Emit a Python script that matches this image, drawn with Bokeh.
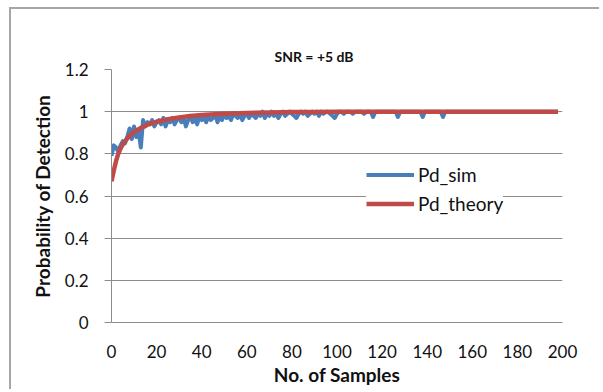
from bokeh.plotting import figure
from bokeh.models import Range1d, FixedTicker, Legend, LegendItem, Title
from bokeh.embed import file_html
from bokeh.resources import INLINE

# ---- data ----
sim_y = [
    0.79, 0.84, 0.83, 0.81, 0.84, 0.86, 0.85, 0.88, 0.92, 0.87,
    0.93, 0.88, 0.91, 0.83, 0.96, 0.93, 0.95, 0.94, 0.96, 0.93,
    0.95, 0.96, 0.94, 0.97, 0.93, 0.96, 0.95, 0.97, 0.94, 0.96,
    0.97, 0.95, 0.97, 0.93, 0.96, 0.98, 0.95, 0.97, 0.94, 0.98,
    0.96, 0.97, 0.95, 0.98, 0.96, 0.97, 0.99, 0.95, 0.98, 0.96,
    0.99, 0.97, 0.98, 0.96, 0.99, 0.98, 0.97, 0.99, 0.96, 0.98,
    0.99, 0.97, 0.99, 0.98, 0.97, 0.99, 0.98, 1.0, 0.97, 0.99,
    0.98, 1.0, 0.98, 0.99, 0.97, 0.99, 1.0, 0.98, 0.99, 1.0,
    0.99, 0.98, 0.97, 0.99, 1.0, 0.99, 1.0, 0.98, 0.99, 1.0,
    0.99, 1.0, 0.98, 1.0, 0.99, 1.0, 1.0, 0.99, 0.98, 0.97,
    0.99, 1.0, 1.0, 0.99, 1.0, 1.0, 1.0, 0.99, 1.0, 1.0,
    1.0, 1.0, 0.99, 1.0, 1.0, 1.0, 0.975, 1.0, 1.0, 1.0,
    1.0, 1.0, 1.0, 1.0, 1.0, 1.0, 1.0, 0.975, 1.0, 1.0,
    1.0, 1.0, 1.0, 1.0, 1.0, 1.0, 1.0, 1.0, 0.975, 1.0,
    1.0, 1.0, 1.0, 1.0, 1.0, 1.0, 1.0, 0.975, 1.0, 1.0,
    1.0, 1.0, 1.0, 1.0, 1.0, 1.0, 1.0, 1.0, 1.0, 1.0,
    1.0, 1.0, 1.0, 1.0, 1.0, 1.0, 1.0, 1.0, 1.0, 1.0,
    1.0, 1.0, 1.0, 1.0, 1.0, 1.0, 1.0, 1.0, 1.0, 1.0,
    1.0, 1.0, 1.0, 1.0, 1.0, 1.0, 1.0, 1.0, 1.0, 1.0,
    1.0, 1.0, 1.0, 1.0, 1.0, 1.0, 1.0, 1.0, 1.0,
]
sim_x = list(range(len(sim_y)))

theory_x = [0, 1, 2, 3, 4, 5, 6, 7, 8, 9, 10, 12, 14, 16, 18, 20, 25, 30,
            35, 40, 50, 60, 70, 80, 90, 100, 150, 198]
theory_y = [0.67, 0.72, 0.765, 0.80, 0.825, 0.845, 0.86, 0.873, 0.885, 0.895,
            0.903, 0.917, 0.928, 0.938, 0.946, 0.952, 0.964, 0.972, 0.979,
            0.984, 0.99, 0.994, 0.996, 0.998, 0.999, 1.0, 1.0, 1.0]

x_ticks = [0, 20, 40, 60, 80, 100, 120, 140, 160, 180, 200]
y_ticks = [0, 0.2, 0.4, 0.6, 0.8, 1, 1.2]
y_tick_labels = {0: "0", 0.2: "0.2", 0.4: "0.4", 0.6: "0.6", 0.8: "0.8", 1: "1", 1.2: "1.2"}

title_text = "SNR = +5 dB"
x_title = "No. of Samples"
y_title = "Probability of Detection"
series_names = ["Pd_sim", "Pd_theory"]

# ---- styling ----
FONT = "Lato"
BLUE = "#4A7EBB"
RED = "#BE4B48"
GRID = "#8C8C8C"
TXT = "#111111"

p = figure(width=590, height=382, output_backend="svg", toolbar_location=None,
           x_range=Range1d(0, 200), y_range=Range1d(0, 1.2),
           min_border_left=100, min_border_right=39,
           min_border_top=60, min_border_bottom=69)
# chart-area border (left and top edges), as in the original
p.styles = {"margin-left": "9px", "margin-top": "7px",
            "border-left": "2px solid #A6A6A6", "border-top": "2px solid #A6A6A6"}
p.outline_line_color = None
p.background_fill_color = "white"
p.border_fill_color = "white"

# chart title, shifted left of the plot-area centre like the original
p.title = Title(text=title_text, align="left", offset=163, padding=(0, 0, 7, 0),
                text_font=FONT, text_font_style="bold", text_font_size="14px",
                text_color="#111111")

# axes
p.xaxis.ticker = FixedTicker(ticks=x_ticks)
p.yaxis.ticker = FixedTicker(ticks=y_ticks)
p.yaxis.major_label_overrides = y_tick_labels
for ax in (p.xaxis[0], p.yaxis[0]):
    ax.axis_line_color = GRID
    ax.axis_line_width = 1
    ax.major_tick_line_color = GRID
    ax.minor_tick_line_color = None
    ax.major_label_text_font = FONT
    ax.major_label_text_font_size = "17px"
    ax.major_label_text_color = TXT
    ax.axis_label_text_font = FONT
    ax.axis_label_text_font_style = "bold"
    ax.axis_label_text_font_size = "19px"
    ax.axis_label_text_color = TXT

p.xaxis.major_tick_in = 0
p.xaxis.major_tick_out = 0
p.xaxis.major_label_standoff = 22
p.xaxis.axis_label = x_title
p.xaxis.axis_label_standoff = 2

p.yaxis.major_tick_in = 0
p.yaxis.major_tick_out = 7
p.yaxis.major_label_standoff = 16
p.yaxis.axis_label = y_title
p.yaxis.axis_label_standoff = 8

p.xgrid.grid_line_color = None
p.ygrid.grid_line_color = GRID
p.ygrid.grid_line_width = 1

# series
r_sim = p.line(sim_x, sim_y, line_color=BLUE, line_width=4, line_join="round")
r_th = p.line(theory_x, theory_y, line_color=RED, line_width=4.5, line_join="round")

legend = Legend(items=[LegendItem(label=series_names[0], renderers=[r_sim]),
                       LegendItem(label=series_names[1], renderers=[r_th])],
                location=(255, 104), orientation="vertical")
legend.border_line_color = None
legend.background_fill_color = "white"
legend.background_fill_alpha = 1.0
legend.label_text_font = FONT
legend.label_text_font_size = "19px"
legend.label_text_color = TXT
legend.glyph_width = 48
legend.glyph_height = 29
legend.label_height = 29
legend.label_standoff = 4
legend.spacing = 0
legend.padding = 5
legend.margin = 0
p.add_layout(legend, "center")

open("out.html", "w").write(file_html(p, INLINE))
